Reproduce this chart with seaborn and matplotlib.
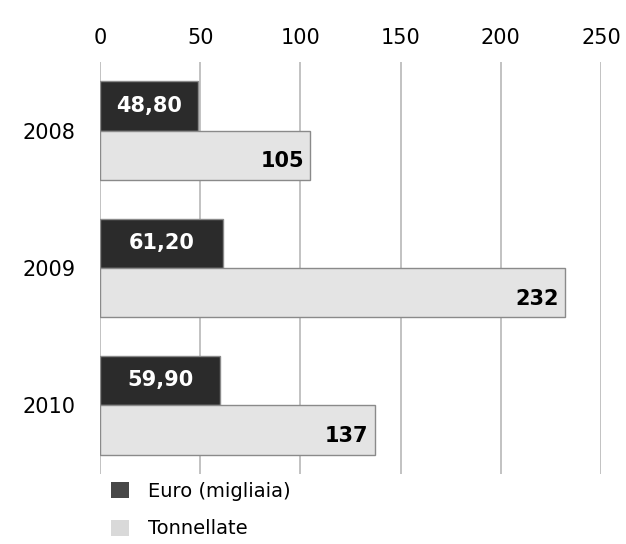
import matplotlib
matplotlib.use("Agg")
import matplotlib.pyplot as plt
import seaborn as sns
import pandas as pd
from matplotlib.patches import Patch

# dati
anni = ["2008", "2009", "2010"]
euro = [48.80, 61.20, 59.90]
tonnellate = [105, 232, 137]
euro_labels = ["48,80", "61,20", "59,90"]
ton_labels = ["105", "232", "137"]
serie = ["Euro (migliaia)", "Tonnellate"]
ticks = [0, 50, 100, 150, 200, 250]

sns.set_style("white")
plt.rcParams['font.family'] = ['DejaVu Sans']
plt.rcParams['text.color'] = 'black'
plt.rcParams['xtick.color'] = 'black'
plt.rcParams['ytick.color'] = 'black'

df = pd.DataFrame({
    "anno": anni * 2,
    "valore": euro + tonnellate,
    "serie": [serie[0]] * 3 + [serie[1]] * 3,
})

fig = plt.figure(figsize=(6.26, 5.44), dpi=100)
ax = fig.add_axes([0.16, 0.129, 0.80, 0.757])

sns.barplot(data=df, y="anno", x="valore", hue="serie", orient="h",
            palette=["#2b2b2b", "#e4e4e4"], width=0.72, gap=0.0,
            edgecolor="#8a8a8a", linewidth=1.0, legend=False, ax=ax, zorder=3)

ax.set_xlim(0, 250)
ax.set_xticks(ticks)
ax.xaxis.tick_top()
ax.tick_params(axis="x", length=0, labelsize=15, pad=10)
ax.tick_params(axis="y", length=0, labelsize=15, pad=18)
ax.grid(axis="x", color="#c2c2c2", linewidth=1.4, zorder=0)
ax.set_axisbelow(True)
for s in ax.spines.values():
    s.set_visible(False)
ax.set_xlabel("")
ax.set_ylabel("")

# etichette dei valori
ax.bar_label(ax.containers[0], labels=euro_labels, label_type="center",
             color="white", fontsize=15, fontweight="bold")
for bar, lab in zip(ax.containers[1], ton_labels):
    ax.text(bar.get_width() - 3, bar.get_y() + bar.get_height() * 0.62, lab,
            ha="right", va="center", color="black", fontsize=15, fontweight="bold",
            zorder=5)

# legenda
handles = [Patch(facecolor="#474747", edgecolor="none"),
           Patch(facecolor="#d9d9d9", edgecolor="none")]
fig.legend(handles, serie, loc="lower left", bbox_to_anchor=(0.15, -0.022),
           frameon=False, fontsize=14, handlelength=0.9, handleheight=0.9,
           handletextpad=1.0, labelspacing=0.95)

fig.savefig("out.png", dpi=100)
